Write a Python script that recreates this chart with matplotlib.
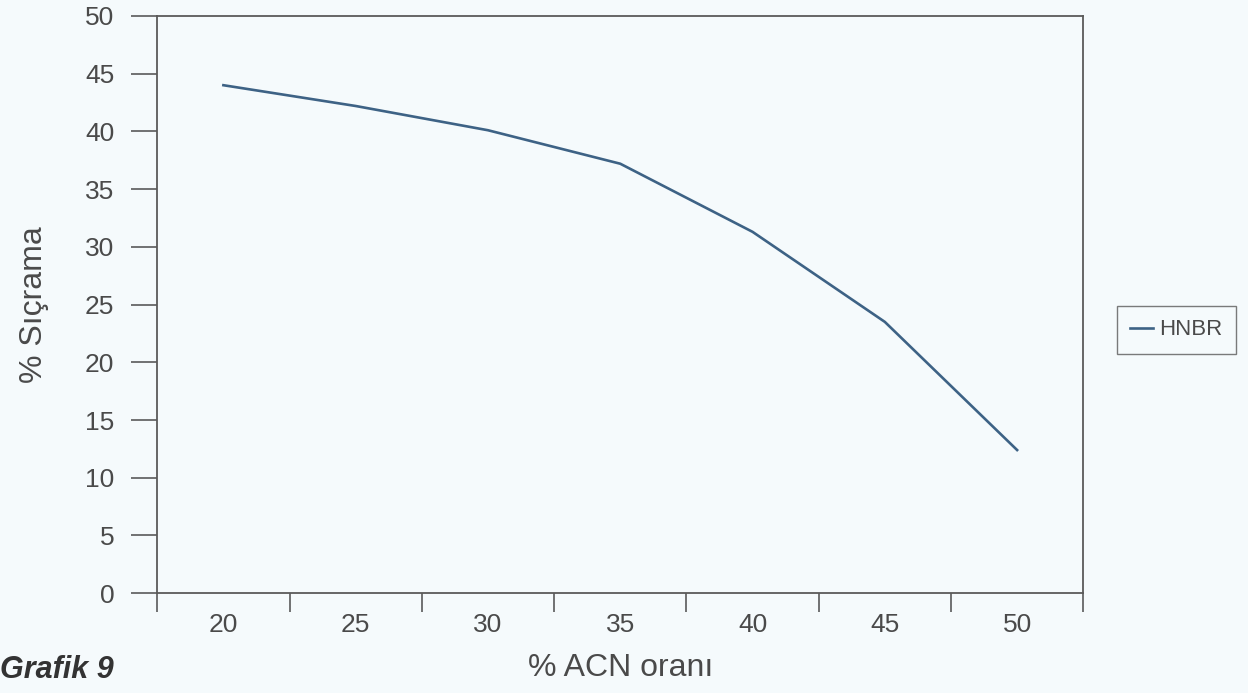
import matplotlib

matplotlib.use("Agg")

import matplotlib.pyplot as plt  # noqa: E402
import numpy as np  # noqa: E402
from matplotlib.ticker import FixedLocator, NullFormatter, FixedFormatter  # noqa: E402

# ACN oranı (%) kategorileri ve sıçrama değerleri
acn_labels = ["20", "25", "30", "35", "40", "45", "50"]
hnbr_values = [44.0, 42.2, 40.1, 37.2, 31.3, 23.5, 12.4]
y_ticks = [0, 5, 10, 15, 20, 25, 30, 35, 40, 45, 50]

plt.rcParams["font.family"] = ["Liberation Sans Narrow", "Liberation Sans", "DejaVu Sans"]

BG = "#f5fafc"
TXT = "#4a4a4a"
SPINE = "#5a5a5a"
LINE = "#3d6285"

fig = plt.figure(figsize=(12.48, 6.93), dpi=100, facecolor=BG)
ax = fig.add_axes([0.126, 0.144, 0.742, 0.833], facecolor=BG)

x = np.arange(len(acn_labels))
ax.plot(x, hnbr_values, color=LINE, lw=1.9, label="HNBR")

ax.set_xlim(-0.5, len(acn_labels) - 0.5)
ax.set_ylim(0, 50)

# kategori ekseni: çizgiler sınırlarda, etiketler ortada
ax.xaxis.set_major_locator(FixedLocator(np.arange(-0.5, len(acn_labels), 1.0)))
ax.xaxis.set_major_formatter(NullFormatter())
ax.xaxis.set_minor_locator(FixedLocator(x))
ax.xaxis.set_minor_formatter(FixedFormatter(acn_labels))
ax.tick_params(axis="x", which="major", direction="out", length=14, width=1.2, color=SPINE)
ax.tick_params(axis="x", which="minor", length=0, pad=14, labelsize=19, labelcolor=TXT)

ax.set_yticks(y_ticks)
ax.tick_params(axis="y", direction="out", length=19, width=1.2, color=SPINE,
               labelsize=19, labelcolor=TXT, pad=12)

for sp in ax.spines.values():
    sp.set_color(SPINE)
    sp.set_linewidth(1.3)

ax.set_xlabel("% ACN oranı", fontsize=23, color=TXT, labelpad=12)
ax.set_ylabel("% Sıçrama", fontsize=23, color=TXT, labelpad=26)

fig.legend(loc="center left", bbox_to_anchor=(0.895, 0.524), borderaxespad=0,
           fontsize=16, frameon=True, fancybox=False, edgecolor=SPINE, facecolor=BG,
           handlelength=1.0, handletextpad=0.3, borderpad=0.6, labelcolor=TXT)

fig.text(0.0, 0.033, "Grafik 9", fontsize=22, fontweight="bold", fontstyle="italic",
         color="#333333", ha="left", va="center")

fig.savefig("out.png", dpi=100, facecolor=BG)
